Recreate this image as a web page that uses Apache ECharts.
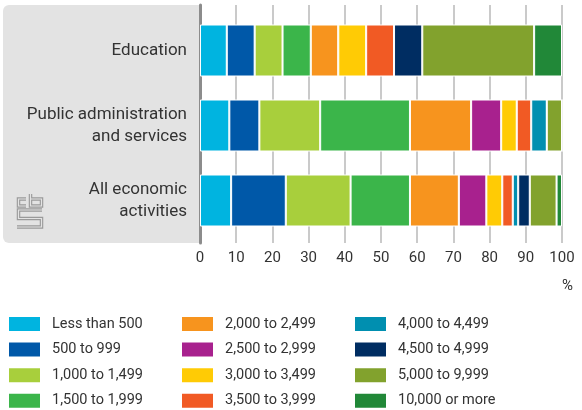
<!DOCTYPE html>
<html>
<head>
<meta charset="utf-8">
<script src="https://cdn.jsdelivr.net/npm/echarts@6/dist/echarts.min.js"></script>
<style>html,body{margin:0;padding:0;background:#fff;}#c{width:582px;height:410px;}</style>
</head>
<body>
<div id="c"></div>
<script>
var categories = ['Education', 'Public administration\nand services', 'All economic\nactivities'];
var xTicks = [0, 10, 20, 30, 40, 50, 60, 70, 80, 90, 100];
var seriesNames = ['Less than 500', '500 to 999', '1,000 to 1,499', '1,500 to 1,999',
  '2,000 to 2,499', '2,500 to 2,999', '3,000 to 3,499', '3,500 to 3,999',
  '4,000 to 4,499', '4,500 to 4,999', '5,000 to 9,999', '10,000 or more'];
var seriesColors = ['#00b4e0', '#0058a8', '#a8cf3c', '#3bb54a', '#f7941e', '#a8218e',
  '#ffcb05', '#f15a24', '#008fb0', '#002d62', '#82a22d', '#218838'];
// values per series: [Education, Public administration and services, All economic activities]
var vLess500 = [7.4, 8.1, 8.6];
var v500 = [7.7, 8.3, 15.1];
var v1000 = [7.7, 16.8, 17.9];
var v1500 = [7.8, 24.8, 16.4];
var v2000 = [7.6, 16.9, 13.5];
var v2500 = [0, 8.3, 7.6];
var v3000 = [7.7, 4.3, 4.4];
var v3500 = [7.7, 4.0, 2.9];
var v4000 = [0, 4.3, 1.5];
var v4500 = [7.8, 0, 3.2];
var v5000 = [30.9, 4.2, 7.4];
var v10000 = [7.7, 0, 1.5];
var seriesValues = [vLess500, v500, v1000, v1500, v2000, v2500, v3000, v3500, v4000, v4500, v5000, v10000];

var FONT = 'Roboto';
var TXT = '#333333';

var series = seriesNames.map(function (n, i) {
  return {
    name: n, type: 'bar', stack: 'total', xAxisIndex: 1, yAxisIndex: 1,
    barWidth: 52,
    itemStyle: { color: seriesColors[i], borderColor: '#ffffff', borderWidth: 1 },
    data: seriesValues[i]
  };
});

function legendFor(idx, left) {
  return {
    orient: 'vertical', left: left, top: 315, width: 170, height: 200, padding: 0,
    itemWidth: 33, itemHeight: 16, itemGap: 7.6,
    icon: 'rect', selectedMode: false,
    data: seriesNames.slice(idx * 4, idx * 4 + 4),
    textStyle: { fontFamily: FONT, fontSize: 14.5, color: TXT, lineHeight: 16, padding: [0, 0, 0, 6] }
  };
}

var logoC = [[26, 199], [18.5, 199], [18.5, 206], [26, 206]];
var logoB = [[30.5, 194], [30.5, 206], [41.5, 206], [41.5, 199], [30.5, 199]];
var logoS = [[42, 210], [18.5, 210], [18.5, 218.5], [41.5, 218.5], [41.5, 227], [17, 227]];

function logoPart(pts, color, w) {
  return { type: 'polyline', z: -5, shape: { points: pts }, style: { stroke: color, lineWidth: w, fill: null } };
}

var option = {
  animation: false,
  backgroundColor: '#ffffff',
  textStyle: { fontFamily: FONT },
  grid: [
    { left: 200, right: 20, top: 5, height: 238 },
    { left: 200, right: 20, top: 13, height: 225 }
  ],
  xAxis: [
    { gridIndex: 0, type: 'value', min: 0, max: 100, interval: 10,
      axisLine: { show: false }, axisTick: { show: false },
      axisLabel: { fontFamily: FONT, fontSize: 15, color: TXT, margin: 8,
        formatter: function (v) { return xTicks.indexOf(v) >= 0 ? String(v) : ''; } },
      splitLine: { show: true, lineStyle: { color: '#b8b8b8', width: 1.5 } } },
    { gridIndex: 1, type: 'value', min: 0, max: 100, show: false }
  ],
  yAxis: [
    { gridIndex: 0, type: 'value', min: 0, max: 1,
      axisLine: { show: true, lineStyle: { color: '#8c8c8c', width: 3 } },
      axisTick: { show: false }, axisLabel: { show: false }, splitLine: { show: false } },
    { gridIndex: 1, type: 'category', inverse: true, data: categories,
      axisLine: { show: false }, axisTick: { show: false },
      axisLabel: { fontFamily: FONT, fontSize: 17, color: TXT, margin: 13, lineHeight: 21.5, align: 'right' } }
  ],
  legend: [legendFor(0, 7), legendFor(1, 180), legendFor(2, 353)],
  graphic: [
    { type: 'rect', z: -10, shape: { x: 3, y: 5, width: 196, height: 238, r: [6, 0, 0, 6] },
      style: { fill: '#e3e3e3' } },
    { type: 'text', left: 562, top: 279, style: { text: '%', fontFamily: FONT, fontSize: 15, fill: TXT } },
    logoPart(logoC, '#9a9a9a', 3.5), logoPart(logoB, '#9a9a9a', 3.5), logoPart(logoS, '#9a9a9a', 3.5),
    logoPart(logoC, '#e3e3e3', 1.2), logoPart(logoB, '#e3e3e3', 1.2), logoPart(logoS, '#e3e3e3', 1.2)
  ],
  series: series
};

var chart = echarts.init(document.getElementById('c'), null, { renderer: 'canvas' });
chart.setOption(option);
</script>
</body>
</html>
